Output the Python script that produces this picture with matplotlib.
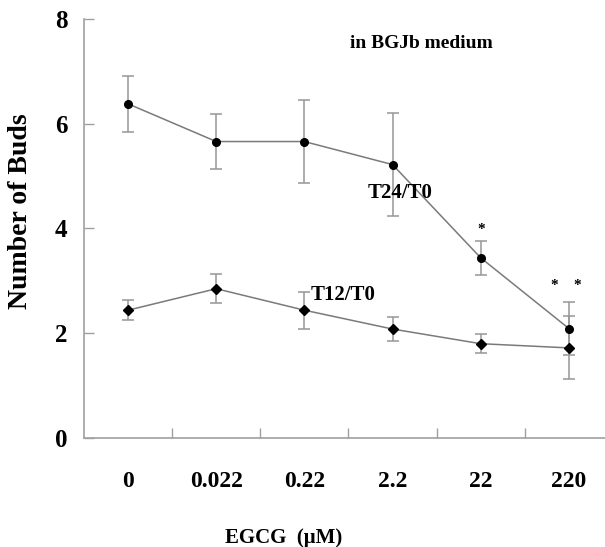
import matplotlib
matplotlib.use('Agg')
import matplotlib.pyplot as plt
from matplotlib.ticker import FixedLocator

# -- DATA --
doses = ['0', '0.022', '0.22', '2.2', '22', '220']
t24_mean = [6.38, 5.66, 5.66, 5.22, 3.44, 2.09]
t24_err = [0.54, 0.52, 0.80, 0.98, 0.33, 0.51]
t12_mean = [2.44, 2.85, 2.44, 2.08, 1.80, 1.72]
t12_err = [0.19, 0.28, 0.35, 0.23, 0.18, 0.60]

plt.rcParams['font.family'] = ['Liberation Serif', 'DejaVu Serif']
plt.rcParams['font.weight'] = 'bold'

fig = plt.figure(figsize=(6.05, 5.47), dpi=100)
ax = fig.add_axes([0.1388, 0.1993, 0.8612, 0.7660])

x = list(range(len(doses)))
line_col = '#7a7a7a'
err_col = '#969696'

# -- SERIES --
ax.errorbar(x, t24_mean, yerr=t24_err, color=line_col, lw=1.1,
            marker='o', markersize=5.5, mfc='black', mec='black',
            ecolor=err_col, elinewidth=1.1, capsize=4.5, capthick=1.1)
ax.errorbar(x, t12_mean, yerr=t12_err, color=line_col, lw=1.1,
            marker='D', markersize=4.8, mfc='black', mec='black',
            ecolor=err_col, elinewidth=1.1, capsize=4.5, capthick=1.1)

# -- ANNOTATIONS --
ax.text(3.33, 7.54, 'in BGJb medium', ha='center', va='center', fontsize=14, fontweight='bold')
ax.text(3.08, 4.67, 'T24/T0', ha='center', va='center', fontsize=15, fontweight='bold')
ax.text(2.44, 2.73, 'T12/T0', ha='center', va='center', fontsize=15, fontweight='bold')
ax.text(4.0, 3.98, '*', ha='center', va='center', fontsize=11, fontweight='bold')
ax.text(4.83, 2.92, '*', ha='center', va='center', fontsize=11, fontweight='bold')
ax.text(5.10, 2.92, '*', ha='center', va='center', fontsize=11, fontweight='bold')

# -- AXES --
ax.set_xlim(-0.5, 5.41)
ax.set_ylim(0, 8)
ax.set_yticks([0, 2, 4, 6, 8])
ax.set_xticks(x)
ax.set_xticklabels(doses)
ax.xaxis.set_minor_locator(FixedLocator([0.5, 1.5, 2.5, 3.5, 4.5]))
ax.tick_params(axis='x', which='major', length=0, pad=24, labelsize=17)
ax.tick_params(axis='x', which='minor', direction='in', length=7, width=1, color='#a0a0a0')
ax.tick_params(axis='y', direction='in', length=7, width=1, color='#a0a0a0', pad=12, labelsize=18)
for lab in ax.get_xticklabels() + ax.get_yticklabels():
    lab.set_fontweight('bold')

for side in ['top', 'right']:
    ax.spines[side].set_visible(False)
for side in ['left', 'bottom']:
    ax.spines[side].set_color('#a0a0a0')
    ax.spines[side].set_linewidth(1.2)

ax.set_ylabel('Number of Buds', fontsize=20, fontweight='bold')
ax.yaxis.set_label_coords(-0.098, 0.541)
ax.set_xlabel('EGCG  (\u03bcM)', fontsize=15, fontweight='bold')
ax.xaxis.set_label_coords(0.383, -0.215)

plt.savefig('out.png', dpi=100)
plt.close(fig)
